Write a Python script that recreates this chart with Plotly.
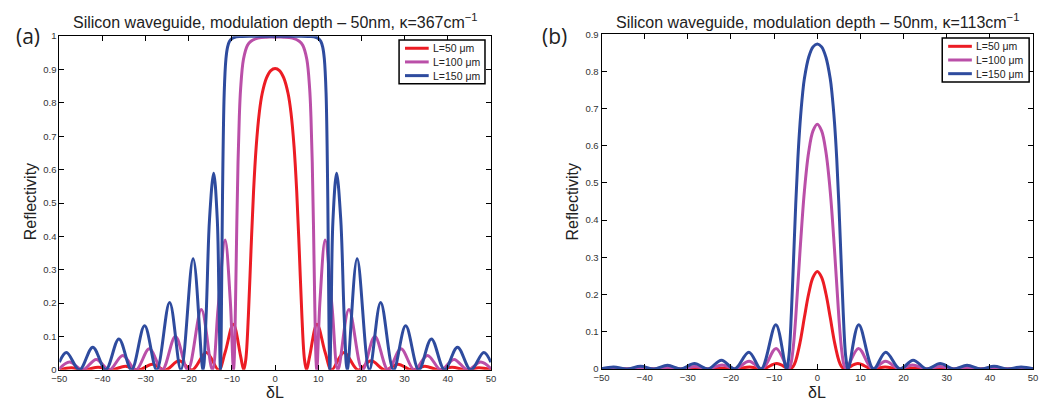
import plotly.graph_objects as go

W, H = 1045, 406

# ---------------- data ----------------
x_ticks = [-50, -40, -30, -20, -10, 0, 10, 20, 30, 40, 50]
x_tick_text = ["\u221250", "\u221240", "\u221230", "\u221220", "\u221210", "0", "10", "20", "30", "40", "50"]
ya_ticks = [0, 0.1, 0.2, 0.3, 0.4, 0.5, 0.6, 0.7, 0.8, 0.9, 1]
ya_tick_text = ["0", "0.1", "0.2", "0.3", "0.4", "0.5", "0.6", "0.7", "0.8", "0.9", "1"]
yb_ticks = [0, 0.1, 0.2, 0.3, 0.4, 0.5, 0.6, 0.7, 0.8, 0.9]
yb_tick_text = ["0", "0.1", "0.2", "0.3", "0.4", "0.5", "0.6", "0.7", "0.8", "0.9"]

series_names = ["L=50 \u03bcm", "L=100 \u03bcm", "L=150 \u03bcm"]
series_colors = ["#EC1C24", "#BA4FA8", "#2E4B9E"]

# panel (a): kappa = 367 cm^-1
a_x_L50 = [-50, -47.25, -44.14, -41, -37.88, -34.7, -31.63, -28.45, -25.4, -22.25, -19.2, -15.95, -13.09, -11.6, -9.7, -8, -7.28, -6.8, -6.2, -5.6, -5, -4.4, -3.67, -3, -2, -1,
           0, 1, 2, 3, 3.67, 4.4, 5, 5.6, 6.2, 6.8, 7.28, 8, 9.7, 11.6, 13.09, 15.95, 19.2, 22.25, 25.4, 28.45, 31.63, 34.7, 37.88, 41, 44.14, 47.25, 50]
a_R_L50 = [0.0002, 0.006, 0, 0.008, 0, 0.0112, 0, 0.0166, 0, 0.027, 0, 0.052, 0, 0.052, 0.137, 0.041, 0, 0.031, 0.162, 0.355, 0.535, 0.667, 0.771, 0.828, 0.875, 0.897,
           0.903, 0.897, 0.875, 0.828, 0.771, 0.667, 0.535, 0.355, 0.162, 0.031, 0, 0.041, 0.137, 0.052, 0, 0.052, 0, 0.027, 0, 0.0166, 0, 0.0112, 0, 0.008, 0, 0.006, 0.0002]

a_x_L100 = [-50, -47.65, -44.59, -41.45, -38.41, -35.3, -32.26, -29.15, -26.18, -23.1, -20.23, -17.1, -14.55, -13.2, -11.6, -10.4, -9.66, -9.5, -9.2, -8.9, -8.6, -8.3, -8, -7.34, -6.4, -5.6, -4, -2,
            0, 2, 4, 5.6, 6.4, 7.34, 8, 8.3, 8.6, 8.9, 9.2, 9.5, 9.66, 10.4, 11.6, 13.2, 14.55, 17.1, 20.23, 23.1, 26.18, 29.15, 32.26, 35.3, 38.41, 41.45, 44.59, 47.65, 50]
a_R_L100 = [0.0034, 0.0237, 0, 0.0313, 0, 0.0433, 0, 0.0632, 0, 0.1, 0, 0.181, 0, 0.187, 0.389, 0.209, 0, 0.023, 0.185, 0.421, 0.622, 0.758, 0.842, 0.931, 0.973, 0.985, 0.994, 0.997,
            0.997, 0.997, 0.994, 0.985, 0.973, 0.931, 0.842, 0.758, 0.622, 0.421, 0.185, 0.023, 0, 0.209, 0.389, 0.187, 0, 0.181, 0, 0.1, 0, 0.0632, 0, 0.0433, 0, 0.0313, 0, 0.0237, 0.0034]

a_x_L150 = [-50, -48.35, -45.34, -42.25, -39.27, -36.2, -33.29, -30.25, -27.44, -24.45, -21.83, -19, -16.71, -16, -15.2, -14.24, -13.4, -13, -12.68, -12.5, -12.2, -11.8, -11.4, -11.01, -10.6, -10, -9, -8, -6, -3,
            0, 3, 6, 8, 9, 10, 10.6, 11.01, 11.4, 11.8, 12.2, 12.5, 12.68, 13, 13.4, 14.24, 15.2, 16, 16.71, 19, 21.83, 24.45, 27.44, 30.25, 33.29, 36.2, 39.27, 42.25, 45.34, 48.35, 50]
a_R_L150 = [0.023, 0.052, 0, 0.068, 0, 0.0925, 0, 0.132, 0, 0.202, 0, 0.333, 0, 0.16, 0.452, 0.589, 0.449, 0.195, 0, 0.102, 0.515, 0.83, 0.932, 0.968, 0.984, 0.993, 0.998, 0.999, 0.9997, 1.0,
            1.0, 1.0, 0.9997, 0.999, 0.998, 0.993, 0.984, 0.968, 0.932, 0.83, 0.515, 0.102, 0, 0.195, 0.449, 0.589, 0.452, 0.16, 0, 0.333, 0, 0.202, 0, 0.132, 0, 0.0925, 0, 0.068, 0, 0.052, 0.023]

# panel (b): kappa = 113 cm^-1
b_x_L50 = [-50, -47.14, -44, -40.86, -37.72, -34.58, -31.44, -28.3, -25.16, -22, -18.88, -15.7, -12.62, -9.4, -6.38, -5.6, -5, -4, -3, -2, -1,
           0, 1, 2, 3, 4, 5, 5.6, 6.38, 9.4, 12.62, 15.7, 18.88, 22, 25.16, 28.3, 31.44, 34.58, 37.72, 40.86, 44, 47.14, 50]
b_R_L50 = [0, 0.0006, 0, 0.0008, 0, 0.0011, 0, 0.0016, 0, 0.0026, 0, 0.0052, 0, 0.0143, 0, 0.0064, 0.022, 0.071, 0.138, 0.202, 0.246,
           0.262, 0.246, 0.202, 0.138, 0.071, 0.022, 0.0064, 0, 0.0143, 0, 0.0052, 0, 0.0026, 0, 0.0016, 0, 0.0011, 0, 0.0008, 0, 0.0006, 0]

b_x_L100 = [-50, -47.18, -44.04, -40.9, -37.77, -34.6, -31.5, -28.33, -25.23, -22.05, -18.99, -15.8, -12.77, -9.55, -6.68, -6.2, -5.6, -5, -4, -3, -2, -1,
            0, 1, 2, 3, 4, 5, 5.6, 6.2, 6.68, 9.55, 12.77, 15.8, 18.99, 22.05, 25.23, 28.33, 31.5, 34.6, 37.77, 40.9, 44.04, 47.18, 50]
b_R_L100 = [0, 0.0023, 0, 0.0031, 0, 0.0043, 0, 0.0064, 0, 0.0105, 0, 0.0205, 0, 0.055, 0, 0.0097, 0.055, 0.138, 0.318, 0.477, 0.583, 0.64,
            0.658, 0.64, 0.583, 0.477, 0.318, 0.138, 0.055, 0.0097, 0, 0.055, 0, 0.0205, 0, 0.0105, 0, 0.0064, 0, 0.0043, 0, 0.0031, 0, 0.0023, 0]

b_x_L150 = [-50, -47.23, -44.11, -40.96, -37.85, -34.7, -31.6, -28.45, -25.36, -22.2, -19.15, -15.85, -13.02, -9.6, -7.14, -6.6, -6, -5.5, -5, -4.5, -4, -3.39, -3, -2, -1,
            0, 1, 2, 3, 3.39, 4, 4.5, 5, 5.5, 6, 6.6, 7.14, 9.6, 13.02, 15.85, 19.15, 22.2, 25.36, 28.45, 31.6, 34.7, 37.85, 40.96, 44.11, 47.23, 50]
b_R_L150 = [0.0002, 0.0052, 0, 0.0068, 0, 0.0095, 0, 0.0142, 0, 0.0233, 0, 0.045, 0, 0.119, 0, 0.032, 0.152, 0.296, 0.442, 0.566, 0.66, 0.742, 0.78, 0.838, 0.866,
            0.874, 0.866, 0.838, 0.78, 0.742, 0.66, 0.566, 0.442, 0.296, 0.152, 0.032, 0, 0.119, 0, 0.045, 0, 0.0233, 0, 0.0142, 0, 0.0095, 0, 0.0068, 0, 0.0052, 0.0002]

title_a = "Silicon waveguide, modulation depth \u2013 50nm, \u03ba=367cm<sup>\u22121</sup>"
title_b = "Silicon waveguide, modulation depth \u2013 50nm, \u03ba=113cm<sup>\u22121</sup>"
panel_labels = ["(a)", "(b)"]
y_title = "Reflectivity"
x_title = "\u03b4L"

for xs, ys in [(a_x_L50, a_R_L50), (a_x_L100, a_R_L100), (a_x_L150, a_R_L150),
               (b_x_L50, b_R_L50), (b_x_L100, b_R_L100), (b_x_L150, b_R_L150)]:
    assert len(xs) == len(ys), (len(xs), len(ys))

# ---------------- figure ----------------
def px(x):
    return x / W

def py(y):
    return 1 - y / H

SANS = "Liberation Sans, Arial, Helvetica, sans-serif"

fig = go.Figure()
panel_a = [(a_x_L50, a_R_L50), (a_x_L100, a_R_L100), (a_x_L150, a_R_L150)]
panel_b = [(b_x_L50, b_R_L50), (b_x_L100, b_R_L100), (b_x_L150, b_R_L150)]
for (xs, ys), name, col in zip(panel_a, series_names, series_colors):
    fig.add_trace(go.Scatter(x=xs, y=ys, name=name, mode="lines", xaxis="x", yaxis="y",
                             line=dict(color=col, width=3, shape="spline", smoothing=1.0),
                             showlegend=False))
for (xs, ys), name, col in zip(panel_b, series_names, series_colors):
    fig.add_trace(go.Scatter(x=xs, y=ys, name=name, mode="lines", xaxis="x2", yaxis="y2",
                             line=dict(color=col, width=3, shape="spline", smoothing=1.0),
                             showlegend=False))

tick_font = dict(family=SANS, size=9.5, color="#333333")
common_axis = dict(showline=True, linecolor="black", linewidth=1, mirror="ticks",
                   ticks="inside", ticklen=5, tickwidth=1, tickcolor="black",
                   showgrid=False, zeroline=False, tickfont=tick_font, fixedrange=True)

fig.update_layout(
    width=W, height=H,
    margin=dict(l=0, r=0, t=0, b=0),
    paper_bgcolor="white", plot_bgcolor="white",
    font=dict(family=SANS, color="#222222"),
    xaxis=dict(domain=[px(52), px(489)], range=[-50, 50], anchor="y",
               tickmode="array", tickvals=x_ticks, ticktext=x_tick_text, **common_axis),
    yaxis=dict(domain=[py(374), py(31)], range=[0, 1], anchor="x",
               tickmode="array", tickvals=ya_ticks, ticktext=ya_tick_text, **common_axis),
    xaxis2=dict(domain=[px(601), px(1038)], range=[-50, 50], anchor="y2",
                tickmode="array", tickvals=x_ticks, ticktext=x_tick_text, **common_axis),
    yaxis2=dict(domain=[py(373), py(29)], range=[0, 0.9], anchor="x2",
                tickmode="array", tickvals=yb_ticks, ticktext=yb_tick_text, **common_axis),
    showlegend=False,
)

annotations = []
shapes = []
title_font = dict(family=SANS, size=16, color="#222222")
label_font = dict(family="Open Sans, Liberation Sans, sans-serif", size=21, color="#222222")
axis_title_font = dict(family=SANS, size=16, color="#222222")

for cx, title, lab, lx, ytx, legend_box in [
        (270.5, title_a, panel_labels[0], 20, 23, (396, 35, 483, 80)),
        (819.5, title_b, panel_labels[1], 553, 572, (946, 33, 1034, 78))]:
    annotations.append(dict(text=title, x=px(cx), y=py(15), xref="paper", yref="paper",
                            xanchor="center", yanchor="middle", showarrow=False, font=title_font))
    annotations.append(dict(text=lab, x=px(lx), y=py(31), xref="paper", yref="paper",
                            xanchor="center", yanchor="middle", showarrow=False, font=label_font))
    annotations.append(dict(text=y_title, x=px(ytx), y=py(201), xref="paper", yref="paper",
                            xanchor="center", yanchor="middle", textangle=-90, showarrow=False,
                            font=axis_title_font))
    annotations.append(dict(text=x_title, x=px(cx), y=py(397), xref="paper", yref="paper",
                            xanchor="center", yanchor="middle", showarrow=False,
                            font=axis_title_font))
    bx0, by0, bx1, by1 = legend_box
    shapes.append(dict(type="rect", xref="paper", yref="paper", x0=px(bx0), x1=px(bx1),
                       y0=py(by0), y1=py(by1), line=dict(color="black", width=1.5),
                       fillcolor="white", layer="above"))
    row_h = (by1 - by0) / 3.2
    for i, (name, col) in enumerate(zip(series_names, series_colors)):
        yy = by0 + row_h * (i + 0.6)
        shapes.append(dict(type="line", xref="paper", yref="paper", x0=px(bx0 + 6), x1=px(bx0 + 30),
                           y0=py(yy), y1=py(yy), line=dict(color=col, width=3), layer="above"))
        annotations.append(dict(text=name, x=px(bx0 + 32), y=py(yy), xref="paper", yref="paper",
                                xanchor="left", yanchor="middle", showarrow=False,
                                font=dict(family=SANS, size=10.5, color="#222222")))

fig.update_layout(annotations=annotations, shapes=shapes)
fig.write_html("out.html")
